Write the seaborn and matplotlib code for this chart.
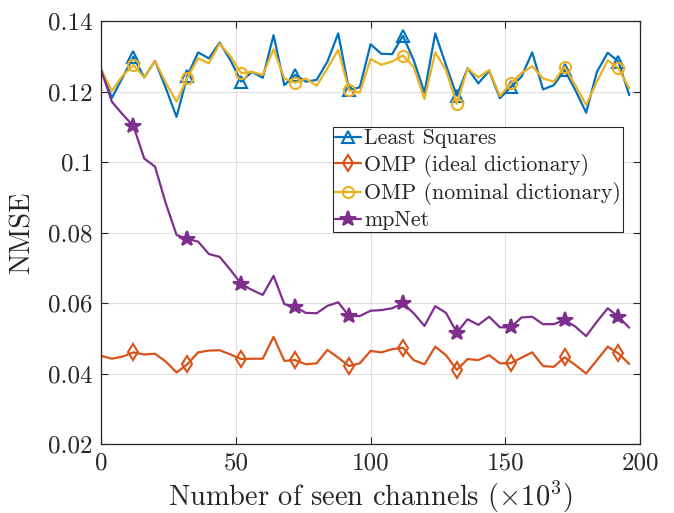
import numpy as np
import pandas as pd
import matplotlib
matplotlib.use("Agg")
import matplotlib.pyplot as plt
import seaborn as sns

channels = list(range(0, 200, 4))

least_squares = [0.1263, 0.1182, 0.1240, 0.1299, 0.1240, 0.1287, 0.1210, 0.1128, 0.1244, 0.1311,
                 0.1294, 0.1339, 0.1289, 0.1228, 0.1256, 0.1239, 0.1360, 0.1218, 0.1247, 0.1228,
                 0.1233, 0.1285, 0.1365, 0.1204, 0.1212, 0.1334, 0.1307, 0.1306, 0.1358, 0.1289,
                 0.1197, 0.1365, 0.1275, 0.1188, 0.1266, 0.1223, 0.1259, 0.1181, 0.1212, 0.1242,
                 0.1311, 0.1206, 0.1218, 0.1261, 0.1204, 0.1140, 0.1256, 0.1310, 0.1285, 0.1190]

omp_nominal = [0.1263, 0.1202, 0.1245, 0.1275, 0.1240, 0.1287, 0.1225, 0.1171, 0.1239, 0.1294,
               0.1280, 0.1336, 0.1300, 0.1252, 0.1256, 0.1247, 0.1320, 0.1237, 0.1225, 0.1237,
               0.1216, 0.1266, 0.1318, 0.1204, 0.1197, 0.1292, 0.1276, 0.1285, 0.1302, 0.1270,
               0.1179, 0.1311, 0.1261, 0.1165, 0.1266, 0.1240, 0.1261, 0.1187, 0.1223, 0.1252,
               0.1272, 0.1237, 0.1228, 0.1270, 0.1218, 0.1162, 0.1228, 0.1289, 0.1266, 0.1209]

omp_ideal = [0.0450, 0.0442, 0.0448, 0.0460, 0.0454, 0.0456, 0.0434, 0.0403, 0.0426, 0.0460,
             0.0465, 0.0466, 0.0454, 0.0441, 0.0442, 0.0442, 0.0504, 0.0436, 0.0438, 0.0426,
             0.0429, 0.0467, 0.0445, 0.0421, 0.0429, 0.0464, 0.0460, 0.0469, 0.0473, 0.0438,
             0.0426, 0.0476, 0.0452, 0.0410, 0.0441, 0.0438, 0.0452, 0.0429, 0.0429, 0.0445,
             0.0460, 0.0421, 0.0419, 0.0446, 0.0424, 0.0400, 0.0438, 0.0476, 0.0457, 0.0427]

mpnet = [0.1261, 0.1171, 0.1135, 0.1102, 0.1010, 0.0987, 0.0883, 0.0793, 0.0782, 0.0774,
         0.0739, 0.0731, 0.0694, 0.0654, 0.0637, 0.0623, 0.0677, 0.0597, 0.0589, 0.0572,
         0.0571, 0.0592, 0.0602, 0.0563, 0.0563, 0.0578, 0.0580, 0.0585, 0.0599, 0.0571,
         0.0535, 0.0591, 0.0572, 0.0516, 0.0554, 0.0538, 0.0561, 0.0531, 0.0531, 0.0559,
         0.0561, 0.0540, 0.0540, 0.0552, 0.0533, 0.0506, 0.0547, 0.0585, 0.0561, 0.0530]

labels = ["Least Squares", "OMP (ideal dictionary)", "OMP (nominal dictionary)", "mpNet"]
x_ticks = [0, 50, 100, 150, 200]
y_ticks = [0.02, 0.04, 0.06, 0.08, 0.1, 0.12, 0.14]
y_ticklabels = ["0.02", "0.04", "0.06", "0.08", "0.1", "0.12", "0.14"]

sns.set_theme(style="whitegrid")
plt.rcParams["font.family"] = "serif"
plt.rcParams["font.serif"] = ["cmr10", "DejaVu Serif"]
plt.rcParams["mathtext.fontset"] = "cm"
plt.rcParams["axes.formatter.use_mathtext"] = True

fig = plt.figure(figsize=(6.74, 5.13), dpi=100)
ax = fig.add_axes([0.150, 0.1345, 0.7996, 0.8245])

series = [
    (least_squares, labels[0], "#0072BD", "^", 9, "none"),
    (omp_ideal, labels[1], "#D95319", "d", 8.5, "none"),
    (omp_nominal, labels[2], "#EDB120", "o", 8, "none"),
    (mpnet, labels[3], "#7E2F8E", "*", 11.5, "#7E2F8E"),
]
for vals, lab, col, mk, ms, mfc in series:
    sns.lineplot(x=channels, y=vals, ax=ax, color=col, label=lab, linewidth=1.6,
                 marker=mk, markersize=ms, markevery=(3, 5), markerfacecolor=mfc,
                 markeredgecolor=col, markeredgewidth=1.5)

ax.set_xlim(0, 200)
ax.set_ylim(0.02, 0.14)
ax.set_xticks(x_ticks)
ax.set_xticklabels([str(t) for t in x_ticks])
ax.set_yticks(y_ticks)
ax.set_yticklabels(y_ticklabels)
ax.tick_params(axis="both", which="both", direction="in", length=5, width=0.8,
               colors="#262626", labelsize=18, top=True, right=True, bottom=True, left=True,
               pad=6)
ax.grid(True, color="#DFDFDF", linewidth=0.8)
ax.set_facecolor("white")
for sp in ax.spines.values():
    sp.set_color("#262626")
    sp.set_linewidth(0.9)
ax.set_xlabel(r"Number of seen channels ($\times10^3$)", fontsize=20.5, color="#262626", labelpad=3)
ax.set_ylabel("NMSE", fontsize=20.5, color="#262626", labelpad=9)

leg = ax.legend(loc="upper left", bbox_to_anchor=(0.430, 0.749), fontsize=15.8,
                frameon=True, fancybox=False, framealpha=1, edgecolor="#262626",
                borderpad=0.08, labelspacing=0.25, handlelength=1.2, handletextpad=0.15,
                borderaxespad=0.0, numpoints=1)
leg.get_frame().set_linewidth(0.8)

fig.savefig("out.png", dpi=100)
